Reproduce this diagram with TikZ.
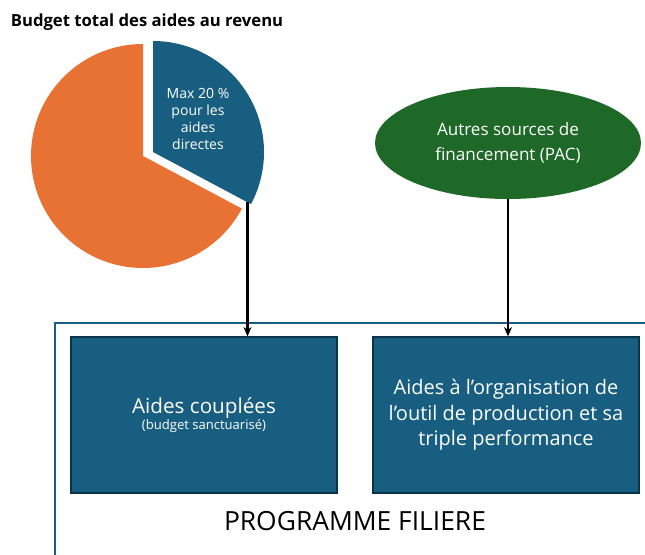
\documentclass[tikz,border=0pt]{standalone}
\usepackage{fontspec}
\setmainfont{Open Sans}
\usepackage{tikz}
\usetikzlibrary{positioning}
\usetikzlibrary{shapes.geometric}
\usetikzlibrary{arrows.meta}
\definecolor{bleu}{RGB}{24,94,128}
\definecolor{bleufonce}{RGB}{12,52,72}
\definecolor{orangepie}{RGB}{232,113,52}
\definecolor{vert}{RGB}{30,104,40}
\begin{document}
\begin{tikzpicture}
[
x=0.75pt, y=-0.75pt,
box-a/.style={rectangle,draw=bleufonce,fill=bleu,line width=1pt,minimum width=199.5pt,minimum height=117pt,text=white,align=center},
ell-a/.style={ellipse,draw=none,fill=vert,minimum width=199.5pt,minimum height=84pt,text=white,align=center,font=\fontsize{12.8}{18.5}\selectfont},
text-a/.style={black},
arrow-a/.style={-{Stealth[length=7pt,width=6pt]},line width=1.6pt,black},
]
\useasboundingbox (0,0) rectangle (645,554);
\clip (0,0) rectangle (645,554);
% cadre du programme
\draw [bleu, line width=1.2pt] (55,323) rectangle (700,600);
% camembert
\begin{scope}[shift={(143,156)}, y=0.75pt]
\fill [orangepie] (0,0) -- (90:112) arc[start angle=90, end angle=332, radius=112] -- cycle;
\fill [bleu] (10,4) -- ++(-28:111) arc[start angle=-28, end angle=90, radius=111] -- cycle;
\coordinate (pietip) at (104.5,-46);
\end{scope}
\node (title) [text-a, font=\fontsize{12.5}{14}\selectfont\bfseries] at (147,22) {Budget total des aides au revenu};
\node (part) [text=white, align=center, font=\fontsize{10.5}{12.7}\selectfont] at (198,119) {Max 20 \%\\pour les\\aides\\directes};
% sources et programme
\node (src) [ell-a] at (508,143) {Autres sources de\\financement (PAC)};
\node (box1) [box-a] at (204,415) {{\fontsize{15.5}{19}\selectfont Aides couplées}\\{\fontsize{9.8}{13}\selectfont (budget sanctuarisé)}};
\node (box2) [box-a, font=\fontsize{15}{19}\selectfont] at (506,415) {Aides à l’organisation de\\l’outil de production et sa\\triple performance};
\node (prog) [text-a, font=\fontsize{19.8}{22}\selectfont] at (355,521) {PROGRAMME FILIERE};
\draw [arrow-a] (pietip) -- (pietip |- box1.north);
\draw [arrow-a] (src.south) -- (src.south |- box2.north);
\end{tikzpicture}
\end{document}
